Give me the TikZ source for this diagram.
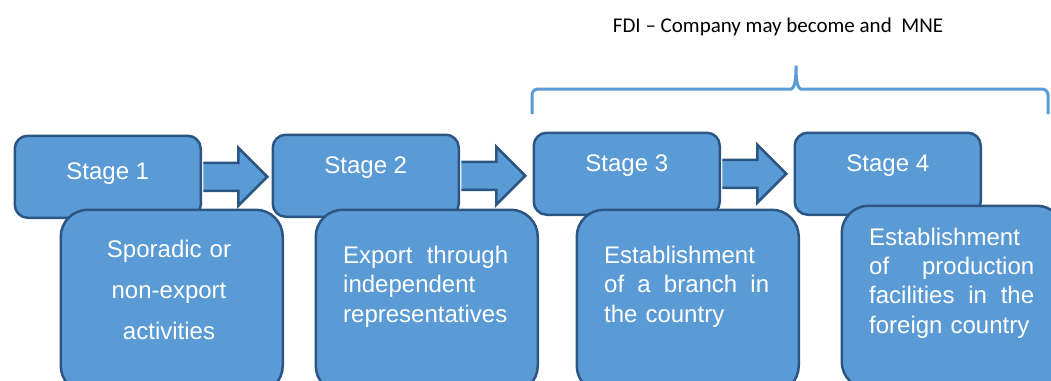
\documentclass[tikz,border=0pt]{standalone}
\usepackage{fontspec}
\setmainfont{Liberation Sans}
\newfontfamily\notefont{Carlito}
\usepackage{tikz}
\usetikzlibrary{calc}
\definecolor{stagefill}{RGB}{91,155,213}
\definecolor{stageline}{RGB}{43,86,132}
\setlength{\parindent}{0pt}
\tikzset{
	stagebox/.style={
		draw=stageline, fill=stagefill, line width=2.5pt,
		rectangle, rounded corners=13pt, anchor=north west,
		minimum width=186pt, minimum height=82pt,
		inner sep=0pt, text=white, font=\fontsize{24}{29}\selectfont,
		text height=18pt, text depth=23pt
	},
	infobox/.style={
		draw=stageline, fill=stagefill, line width=2.5pt,
		rectangle, rounded corners=27pt, anchor=north west,
		minimum width=222pt, minimum height=183pt, inner sep=0pt
	},
	infotext/.style={
		inner sep=0pt, text=white, anchor=north west,
		text width=165pt, align=left,
		font=\fontsize{24}{29.5}\selectfont
	},
}

\begin{document}
\begin{tikzpicture}[
		x=1pt, y=-1pt,
		blockarrow/.style={draw=stageline, fill=stagefill, line width=2.5pt, line join=miter},
		fdibrace/.style={draw=stagefill, line width=3pt, rounded corners=6pt}
		]
		\useasboundingbox (0,0) rectangle (1051,380);
		
		\node[stagebox, text depth=13pt] (s1) at (13.5,134.5) {Stage 1};
		\node[stagebox] (s2) at (271.5,133.5) {Stage 2};
		\node[stagebox] (s3) at (532.5,131.5) {Stage 3};
		\node[stagebox] (s4) at (793.5,131.5) {Stage 4};
		
		\foreach \s in {s1,s2,s3}
			\draw[blockarrow] ($(\s.east)+(1.25,-14)$) -- ++(35,0) -- ++(0,-15)
				-- ++(29,29) -- ++(-29,29) -- ++(0,-15) -- ++(-35,0);
		
		\node[infobox] (d1) at (59.5,208.5) {};
		\node[infobox] (d2) at (314.5,208.5) {};
		\node[infobox] (d3) at (575.5,208.5) {};
		\node[infobox] (d4) at (840.5,204.5) {};
		
		\node[infotext, anchor=north, text width=200pt, align=center,
			font=\fontsize{24}{41}\selectfont] (t1) at (169,239.5)
			{Sporadic or\\non-export\\activities};
		\node[infotext] (t2) at (343,245.8)
			{Export\hfill through\\independent\\representatives};
		\node[infotext] (t3) at (604,245.8)
			{Establishment\\of\hfill a\hfill branch\hfill in\\the country};
		\node[infotext, font=\fontsize{24}{29.3}\selectfont] (t4) at (869,227.8)
			{Establishment\\of\hfill production\\facilities\hfill in\hfill the\\foreign country};
		
		% bracket over stages 3 and 4
		\draw[fdibrace] (532,114) -- (532,89) -- (785,89)
			.. controls (793,89) and (796,85) .. (796,62)
			.. controls (796,85) and (799,89) .. (807,89)
			-- (1048,89) -- (1048,114);
		\node[font=\notefont\fontsize{21}{25}\selectfont] (fdi) at (778,27)
			{FDI – Company may become and\ \ MNE};
	\end{tikzpicture}
\end{document}
